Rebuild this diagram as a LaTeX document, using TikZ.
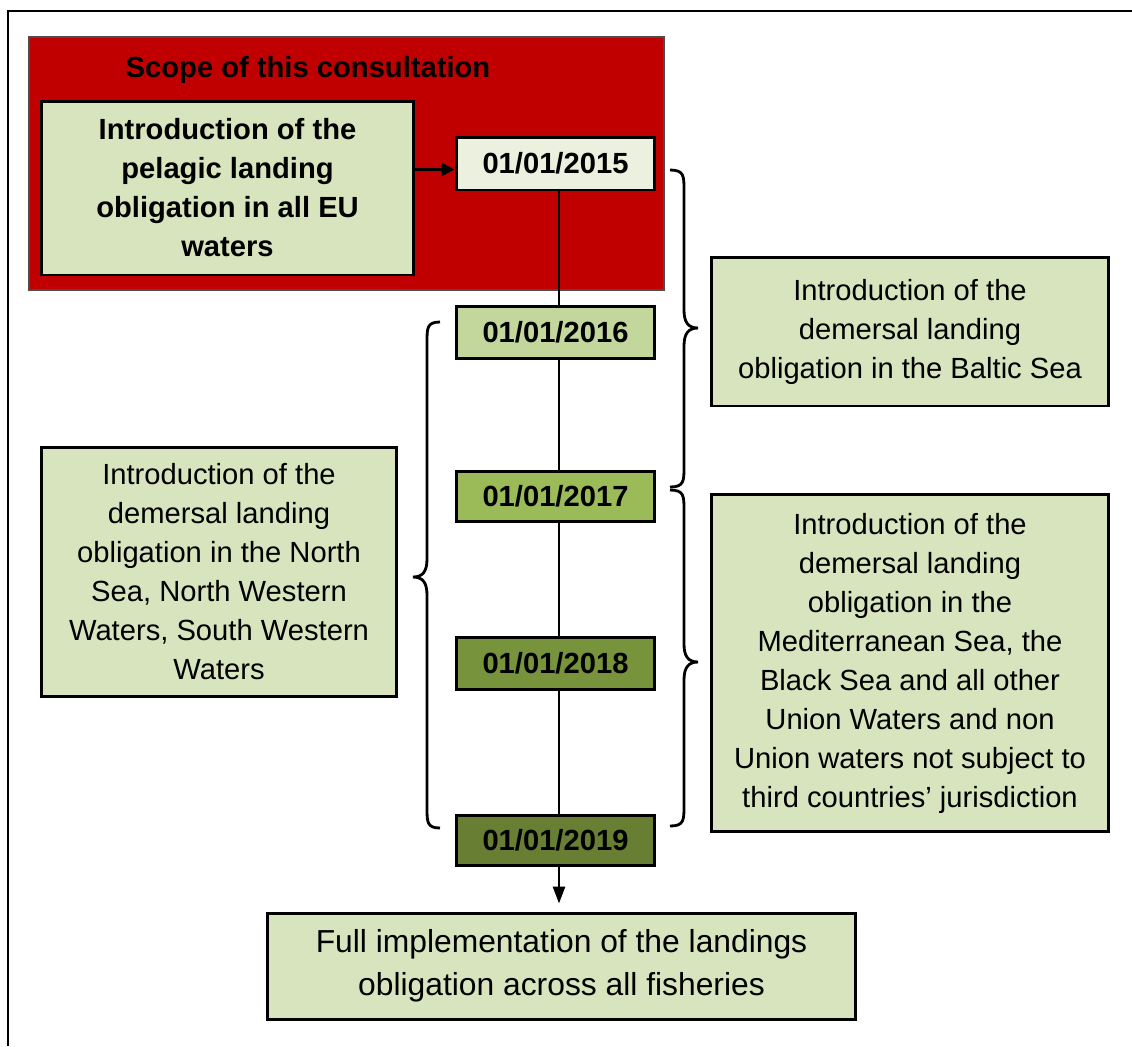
\documentclass[tikz,border=0pt]{standalone}
\usepackage{fontspec}
\setmainfont{Liberation Sans}
\usetikzlibrary{arrows.meta,calc}
\definecolor{scopered}{HTML}{C00000}
\definecolor{boxgreen}{HTML}{D7E4BD}
\definecolor{ga}{HTML}{EBF1DE}
\definecolor{gb}{HTML}{C3D69B}
\definecolor{gc}{HTML}{9BBB59}
\definecolor{gd}{HTML}{77933C}
\definecolor{ge}{HTML}{687E33}
\tikzset{
  txt/.style={font=\fontsize{16.6}{22.2}\selectfont},
  infobox/.style={txt, draw=black, line width=1.7pt, fill=boxgreen, align=center, inner sep=0pt},
  datebox/.style={txt, font=\fontsize{16.6}{22.2}\selectfont\bfseries, draw=black, line width=1.7pt, inner sep=0pt, minimum width=3.98cm},
  conn/.style={line width=1.6pt},
  bracecurve/.style={line width=1.6pt},
}
\begin{document}
\begin{tikzpicture}[x=0.02cm,y=-0.02cm]
\useasboundingbox (0,0) rectangle (1132,1046);
% outer frame (cut at right and bottom)
\draw[line width=1.1pt] (8,1046) -- (8,11) -- (1132,11);
% scope area
\fill[scopered, draw=black!70, line width=0.6pt] (29,37) rectangle (664,290);
\node[txt, font=\fontsize{16.6}{22.2}\selectfont\bfseries] (scope) at (308,70) {Scope of this consultation};
\node[infobox, font=\fontsize{16.6}{22.2}\selectfont\bfseries, minimum width=7.46cm, minimum height=3.48cm] (pel) at (227.5,188)
  {Introduction of the\\pelagic landing\\obligation in all EU\\waters};
% dates
\node[datebox, fill=ga, minimum height=1.06cm] (d15) at (555.5,163.5) {01/01/2015};
\node[datebox, fill=gb, minimum height=1.04cm] (d16) at (555.5,332) {01/01/2016};
\node[datebox, fill=gc, minimum height=1.0cm] (d17) at (555.5,496.5) {01/01/2017};
\node[datebox, fill=gd, minimum height=1.04cm] (d18) at (555.5,663) {01/01/2018};
\node[datebox, fill=ge, minimum height=1.0cm] (d19) at (555.5,840) {01/01/2019};
% info boxes
\node[infobox, minimum width=7.96cm, minimum height=2.98cm] (baltic) at (910,331.5)
  {Introduction of the\\demersal landing\\obligation in the Baltic Sea};
\node[infobox, minimum width=7.12cm, minimum height=5.0cm] (north) at (219,572)
  {Introduction of the\\demersal landing\\obligation in the North\\Sea, North Western\\Waters, South Western\\Waters};
\node[infobox, minimum width=7.96cm, minimum height=6.76cm] (med) at (910,663)
  {Introduction of the\\demersal landing\\obligation in the\\Mediterranean Sea, the\\Black Sea and all other\\Union Waters and non\\Union waters not subject to\\third countries’ jurisdiction};
\node[infobox, font=\fontsize{18.1}{24.4}\selectfont, minimum width=11.78cm, minimum height=2.12cm] (full) at (561.5,966)
  {Full implementation of the landings\\obligation across all fisheries};
% connectors
\coordinate (a15) at ($(d15.west)+(0,6)$);
\draw[conn, -{Triangle[length=0.26cm,width=0.26cm]}] (pel.east |- a15) -- (a15);
\coordinate (t15) at ($(d15.south)+(3.5,0)$);
\draw[conn] (t15) -- (t15 |- d16.north);
\draw[conn] (t15 |- d16.south) -- (t15 |- d17.north);
\draw[conn] (t15 |- d17.south) -- (t15 |- d18.north);
\draw[conn] (t15 |- d18.south) -- (t15 |- d19.north);
\draw[conn, shorten >=0.16cm, -{Triangle[length=0.34cm,width=0.24cm]}] (t15 |- d19.south) -- (t15 |- full.north);
% braces
\draw[bracecurve] (670,170) .. controls (684,170) and (684,176) .. (684,190) -- (684,310)
  .. controls (684,322) and (688,328) .. (698,328)
  .. controls (688,328) and (684,334) .. (684,346) -- (684,467)
  .. controls (684,481) and (684,487) .. (670,487);
\draw[bracecurve] (670,490) .. controls (684,490) and (684,496) .. (684,510) -- (684,644)
  .. controls (684,656) and (688,662) .. (698,662)
  .. controls (688,662) and (684,668) .. (684,680) -- (684,806)
  .. controls (684,820) and (684,826) .. (670,826);
\draw[bracecurve] (440,322) .. controls (427,322) and (427,328) .. (427,342) -- (427,559)
  .. controls (427,571) and (423,577) .. (413,577)
  .. controls (423,577) and (427,583) .. (427,595) -- (427,808)
  .. controls (427,822) and (427,828) .. (440,828);
\end{tikzpicture}
\end{document}
